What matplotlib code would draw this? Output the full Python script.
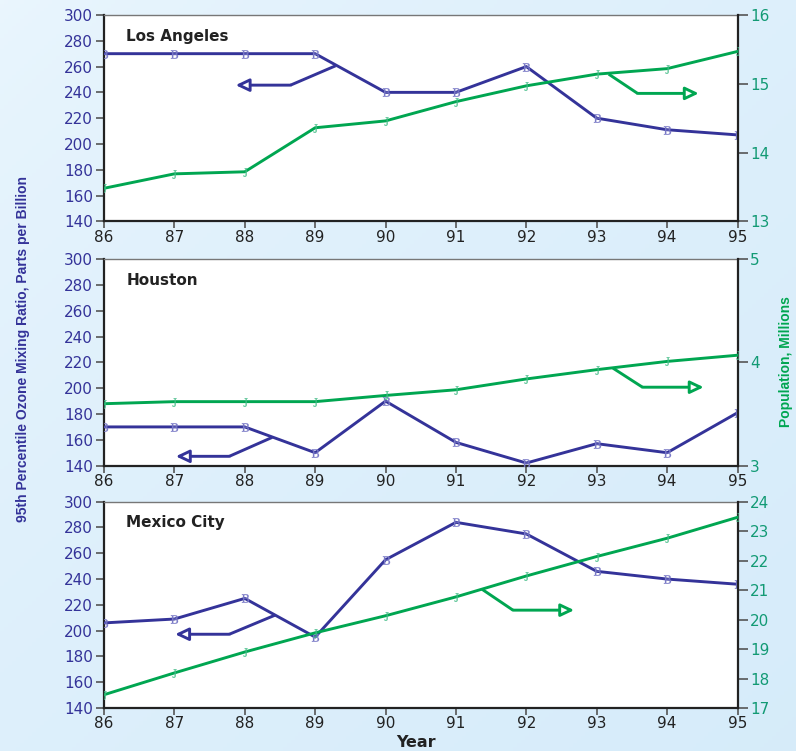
import matplotlib
matplotlib.use("Agg")
import matplotlib.pyplot as plt
import numpy as np

# ---------------- data ----------------
years = [86, 87, 88, 89, 90, 91, 92, 93, 94, 95]
cities = ["Los Angeles", "Houston", "Mexico City"]

ozone_la = [270, 270, 270, 270, 240, 240, 260, 220, 211, 207]
ozone_hou = [170, 170, 170, 150, 190, 158, 142, 157, 150, 181]
ozone_mex = [206, 209, 225, 195, 255, 284, 275, 246, 240, 236]

pop_la = [13.48, 13.69, 13.72, 14.36, 14.46, 14.74, 14.97, 15.14, 15.22, 15.47]
pop_hou = [3.60, 3.62, 3.62, 3.62, 3.68, 3.735, 3.84, 3.93, 4.01, 4.07]
pop_mex = [17.45, 18.19, 18.90, 19.55, 20.13, 20.77, 21.48, 22.14, 22.76, 23.47]

ozone_ticks = [140, 160, 180, 200, 220, 240, 260, 280, 300]
pop_ticks_la = [13, 14, 15, 16]
pop_ticks_hou = [3, 4, 5]
pop_ticks_mex = [17, 18, 19, 20, 21, 22, 23, 24]

# arrow annotations (start on curve, elbow, tip) in data coordinates
left_arrows = [
    [(89.29, 260.6), (88.65, 245.6), (87.87, 245.6)],
    [(88.39, 161.9), (87.78, 147.2), (87.02, 147.2)],
    [(88.43, 212.0), (87.78, 197.2), (87.01, 197.2)],
]
right_arrows = [
    [(93.17, 15.14), (93.58, 14.86), (94.45, 14.86)],
    [(93.23, 3.945), (93.65, 3.76), (94.52, 3.76)],
    [(91.37, 21.03), (91.81, 20.32), (92.68, 20.32)],
]

ozone_all = [ozone_la, ozone_hou, ozone_mex]
pop_all = [pop_la, pop_hou, pop_mex]
pop_ticks_all = [pop_ticks_la, pop_ticks_hou, pop_ticks_mex]

# ---------------- style ----------------
BLUE = "#343399"
BLUE_M = "#7878c6"
GREEN = "#00a651"
GREEN_M = "#45bd88"
GREEN_T = "#129a74"
GRAY = "#555555"

plt.rcParams["font.family"] = ["DejaVu Sans"]
plt.rcParams["mathtext.fontset"] = "dejavuserif"

fig = plt.figure(figsize=(7.96, 7.51), dpi=100)

# gradient background
bg = fig.add_axes([0, 0, 1, 1], zorder=-10)
gx, gy = np.meshgrid(np.linspace(0, 1, 200), np.linspace(0, 1, 200))
g = np.clip(gx * 0.5 + gy * 0.5, 0, 1) ** 0.6
c0 = np.array([0.92, 0.965, 0.995])
c1 = np.array([0.84, 0.925, 0.98])
img = c0[None, None, :] * (1 - g[..., None]) + c1[None, None, :] * g[..., None]
bg.imshow(img, aspect="auto", extent=[0, 1, 0, 1], origin="upper")
bg.set_axis_off()

left, width = 104 / 796, (737.5 - 104) / 796
tops = [15, 259.3, 501.7]
height_px = 206.3

for i in range(3):
    bottom = 1 - (tops[i] + height_px) / 751
    ax = fig.add_axes([left, bottom, width, height_px / 751])
    ax.set_facecolor("white")
    ax2 = ax.twinx()

    ax.plot(years, ozone_all[i], color=BLUE, lw=2.1, zorder=3)
    ax.plot(years, ozone_all[i], linestyle="none", marker=r"$\mathrm{B}$",
            markersize=6, color=BLUE_M, markeredgewidth=0.2, zorder=4)
    ax2.plot(years, pop_all[i], color=GREEN, lw=2.1, zorder=3)
    ax2.plot(years, pop_all[i], linestyle="none", marker=r"$\mathrm{J}$",
             markersize=6, color=GREEN_M, markeredgewidth=0.2, zorder=4)

    # arrows
    la = left_arrows[i]
    ax.plot([la[0][0], la[1][0]], [la[0][1], la[1][1]], color=BLUE, lw=2.1,
            solid_capstyle="butt")
    ax.annotate("", xy=la[2], xytext=la[1],
                arrowprops=dict(arrowstyle="-|>,head_length=0.8,head_width=0.38",
                                fc="white", ec=BLUE, lw=2.1, shrinkA=0, shrinkB=0))
    ra = right_arrows[i]
    ax2.plot([ra[0][0], ra[1][0]], [ra[0][1], ra[1][1]], color=GREEN, lw=2.1,
             solid_capstyle="butt")
    ax2.annotate("", xy=ra[2], xytext=ra[1],
                 arrowprops=dict(arrowstyle="-|>,head_length=0.8,head_width=0.38",
                                 fc="white", ec=GREEN, lw=2.1, shrinkA=0, shrinkB=0))

    ax.set_xlim(86, 95)
    ax.set_ylim(140, 300)
    ax.set_xticks(years)
    ax.set_xticklabels([str(y) for y in years])
    ax.set_yticks(ozone_ticks)
    pt = pop_ticks_all[i]
    ax2.set_ylim(pt[0], pt[-1])
    ax2.set_yticks(pt)

    ax.tick_params(axis="y", direction="out", length=6, width=1.2, color=GRAY,
                   labelcolor=BLUE, labelsize=11, pad=2)
    ax.tick_params(axis="x", direction="out", length=5, width=1.2, color=GRAY,
                   labelcolor="#222222", labelsize=11, pad=1.0)
    ax2.tick_params(axis="y", direction="out", length=7, width=1.2, color=GRAY,
                    labelcolor=GREEN_T, labelsize=11, pad=2)

    for s in ["left", "bottom"]:
        ax.spines[s].set_color("#222222")
        ax.spines[s].set_linewidth(1.6)
    ax.spines["top"].set_color("#777777")
    ax.spines["top"].set_linewidth(1.0)
    ax.spines["right"].set_visible(False)
    for s in ["left", "bottom", "top"]:
        ax2.spines[s].set_visible(False)
    ax2.spines["right"].set_color("#222222")
    ax2.spines["right"].set_linewidth(1.6)

    ax.text(0.035, 0.897, cities[i], transform=ax.transAxes, fontsize=11,
            fontweight="bold", color="#222222", va="center", ha="left")

fig.text(0.029, 0.535, "95th Percentile Ozone Mixing Ratio, Parts per Billion",
         rotation=90, ha="center", va="center", color=BLUE, fontsize=10,
         fontweight="bold", family=["Liberation Sans Narrow", "Liberation Sans"])
fig.text(0.988, 0.518, "Population, Millions", rotation=90, ha="center",
         va="center", color=GREEN, fontsize=10, fontweight="bold",
         family=["Liberation Sans Narrow", "Liberation Sans"])
fig.text(0.523, 0.0107, "Year", ha="center", va="center", color="#222222",
         fontsize=11.5, fontweight="bold")

fig.savefig("out.png", dpi=100)
